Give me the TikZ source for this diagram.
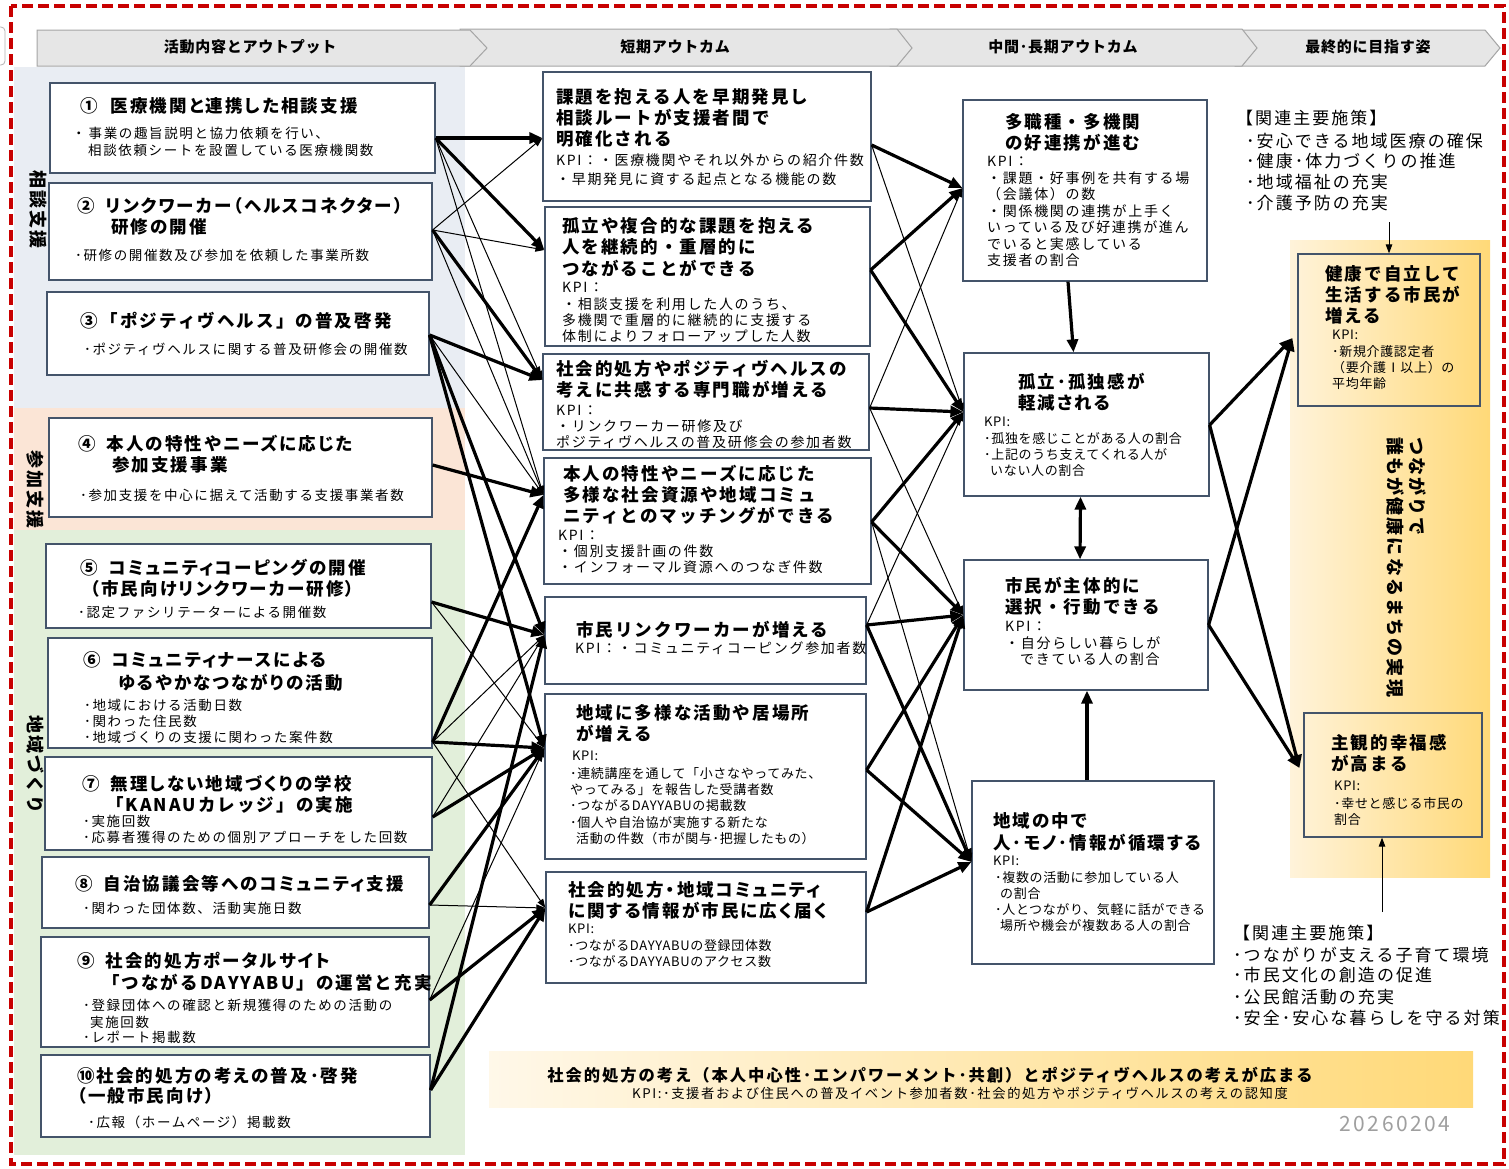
\documentclass[tikz,border=0pt]{standalone}
\usepackage{fontspec}
\setmainfont{Noto Sans CJK JP}
\newfontfamily\jsp[LetterSpace=12]{Noto Sans CJK JP}
\newfontfamily\jtp[LetterSpace=12,RawFeature=+palt]{Noto Sans CJK JP}
\newfontfamily\jsq[LetterSpace=5]{Noto Sans CJK JP}
\usetikzlibrary{fit,arrows.meta,calc}
\definecolor{redb}{RGB}{200,0,0}
\definecolor{bluebg}{RGB}{233,237,243}
\definecolor{peachbg}{RGB}{251,229,214}
\definecolor{greenbg}{RGB}{226,239,218}
\definecolor{boxb}{RGB}{68,84,106}
\definecolor{chev}{RGB}{230,230,230}
\definecolor{chevb}{RGB}{165,165,165}
\definecolor{ylight}{RGB}{255,243,218}
\definecolor{ydark}{RGB}{255,217,120}
\newcounter{tn}
\newcommand\ttline[3]{\stepcounter{tn}\node[ttl] (t\arabic{tn}) at (#1,#2) {#3};}
\newcommand\tpline[3]{\stepcounter{tn}\node[ttp] (t\arabic{tn}) at (#1,#2) {#3};}
\newcommand\bdline[3]{\stepcounter{tn}\node[bdy] (t\arabic{tn}) at (#1,#2) {#3};}
\newcommand\bmline[3]{\stepcounter{tn}\node[bdm] (t\arabic{tn}) at (#1,#2) {#3};}
\newcommand\bsline[3]{\stepcounter{tn}\node[bds] (t\arabic{tn}) at (#1,#2) {#3};}
\newcommand\poline[3]{\stepcounter{tn}\node[pol] (t\arabic{tn}) at (#1,#2) {#3};}
\newcommand\gp{\hspace{11pt}}
\begin{document}
\begin{tikzpicture}[x=1pt,y=-1pt,
  bx/.style={draw=boxb, line width=1.2pt, fill=white, inner sep=0pt},
  bxo/.style={draw=boxb, line width=1.2pt, inner sep=0pt},
  ttl/.style={font=\jsp\bfseries\fontsize{17.5}{21}\selectfont, inner sep=0pt, anchor=west},
  ttp/.style={font=\jtp\bfseries\fontsize{17.5}{21}\selectfont, inner sep=0pt, anchor=west},
  bdy/.style={font=\jsp\fontsize{13.5}{16}\selectfont, inner sep=0pt, anchor=west},
  bdm/.style={font=\jsp\fontsize{14}{16}\selectfont, inner sep=0pt, anchor=west},
  bds/.style={font=\jsq\fontsize{13}{16}\selectfont, inner sep=0pt, anchor=west},
  pol/.style={font=\jsp\fontsize{17}{20}\selectfont, inner sep=0pt, anchor=west},
  hdr/.style={font=\jsq\bfseries\fontsize{15}{15}\selectfont, inner sep=0pt},
  vlab/.style={font=\jsp\bfseries\fontsize{18}{18}\selectfont, inner sep=0pt, rotate=-90, anchor=west},
  thk/.style={line width=3.2pt, -{Triangle[length=13pt,width=11pt]}},
  thn/.style={line width=1pt, -{Triangle[length=9pt,width=6.5pt]}},
]
\useasboundingbox (0,0) rectangle (1509,1168);
\fill[white] (0,0) rectangle (1509,1168);
% left fragment
\draw[gray!60, rounded corners=4pt, line width=0.8pt] (-10,27) rectangle (5,65);
% header chevrons
\filldraw[fill=chev, draw=chevb, line width=1pt] (1235,30) -- (1485,30) -- (1500,48) -- (1485,66) -- (1235,66) -- cycle;
\filldraw[fill=chev, draw=chevb, line width=1pt] (890,29) -- (1242,29) -- (1257,48) -- (1242,66) -- (890,66) -- cycle;
\filldraw[fill=chev, draw=chevb, line width=1pt] (460,29) -- (897,29) -- (912,48) -- (897,66) -- (460,66) -- cycle;
\filldraw[fill=chev, draw=chevb, line width=1pt] (37,30) -- (470,30) -- (487,48) -- (470,66) -- (37,66) -- cycle;
\node[hdr] (h1) at (250,47) {活動内容とアウトプット};
\node[hdr] (h2) at (675,47) {短期アウトカム};
\node[hdr] (h3) at (1063,47) {中間･長期アウトカム};
\node[hdr] (h4) at (1368,47) {最終的に目指す姿};
% background bands
\fill[bluebg] (14,67) rectangle (465,408);
\fill[peachbg] (14,408) rectangle (465,530);
\fill[greenbg] (14,530) rectangle (465,1155);
\node[vlab] (s1) at (38,170) {相談支援};
\node[vlab] (s2) at (35,450) {参加支援};
\node[vlab] (s3) at (35,715) {地域づくり};
% right panel
\shade[left color=ylight, right color=ydark] (1290,240) rectangle (1490,877);
\shade[left color=ylight!60!white, right color=ydark] (489,1051) rectangle (1473,1107);
% ---------------- left boxes
\node[bx, fit={(50,83)(435,173)}] (L1) {};
\node[bx, fit={(49,183)(432,280)}] (L2) {};
\node[bx, fit={(47,292)(429,375)}] (L3) {};
\node[bx, fit={(49,418)(432,517)}] (L4) {};
\node[bx, fit={(46,544)(431,628)}] (L5) {};
\node[bx, fit={(48,638)(432,748)}] (L6) {};
\node[bx, fit={(45,757)(432,850)}] (L7) {};
\node[bx, fit={(42,857)(429,928)}] (L8) {};
\node[bx, fit={(41,937)(429,1047)}] (L9) {};
\node[bx, fit={(41,1055)(430,1137)}] (L10) {};
% middle boxes
\node[bx, fit={(543,72)(871,201)}] (SA) {};
\node[bx, fit={(545,207)(870,346)}] (SB) {};
\node[bx, fit={(543,354)(869,450)}] (SC) {};
\node[bx, fit={(544,458)(871,584)}] (SD) {};
\node[bx, fit={(545,597)(866,684)}] (SE) {};
\node[bx, fit={(545,694)(866,859)}] (SF) {};
\node[bx, fit={(546,872)(866,983)}] (SG) {};
% intermediate boxes
\node[bx, fit={(963,100)(1207,281)}] (MH) {};
\node[bx, fit={(964,353)(1209,496)}] (MI) {};
\node[bx, fit={(964,560)(1208,690)}] (MJ) {};
\node[bx, fit={(972,781)(1214,964)}] (MK) {};
% final boxes
\node[bxo, fit={(1298,254)(1480,406)}] (FL) {};
\node[bxo, fit={(1304,713)(1482,837)}] (FM) {};
% ---------------- texts left
\tpline{80}{106}{①\hspace{13pt}医療機関と連携した相談支援}
\bdline{72}{133}{・\hspace{3pt}事業の趣旨説明と協力依頼を行い、}
\bdline{88}{150}{相談依頼シートを設置している医療機関数}
\tpline{77}{206}{②\gp リンクワーカー（ヘルスコネクター）}
\tpline{111}{227}{研修の開催}
\bdline{75}{255}{･研修の開催数及び参加を依頼した事業所数}
\ttline{80}{321}{③\hspace{3pt}「ポジティヴヘルス」の普及啓発}
\bdline{84}{349}{･ポジティヴヘルスに関する普及研修会の開催数}
\tpline{78}{444}{④\gp 本人の特性やニーズに応じた}
\tpline{112}{465}{参加支援事業}
\bdline{80}{495}{･参加支援を中心に据えて活動する支援事業者数}
\tpline{80}{568}{⑤\gp コミュニティコーピングの開催}
\tpline{90}{589}{（市民向けリンクワーカー研修）}
\bdline{78}{612}{･認定ファシリテーターによる開催数}
\tpline{83}{660}{⑥\gp コミュニティナースによる}
\tpline{118}{683}{ゆるやかなつながりの活動}
\bdline{84}{705}{･地域における活動日数}
\bdline{84}{721}{･関わった住民数}
\bdline{84}{737}{･地域づくりの支援に関わった案件数}
\tpline{82}{784}{⑦\gp 無理しない地域づくりの学校}
\ttline{106}{805}{「KANAUカレッジ」の実施}
\bdline{83}{821}{･実施回数}
\bdline{83}{837}{･応募者獲得のための個別アプローチをした回数}
\tpline{75}{884}{⑧\gp 自治協議会等へのコミュニティ支援}
\bdline{83}{908}{･関わった団体数、活動実施日数}
\tpline{77}{961}{⑨\gp 社会的処方ポータルサイト}
\ttline{102}{983}{「つながるDAYYABU」の運営と充実}
\bdline{83}{1005}{･登録団体への確認と新規獲得のための活動の}
\bdline{90}{1022}{実施回数}
\bdline{83}{1037}{･レポート掲載数}
\tpline{77}{1076}{⑩社会的処方の考えの普及･啓発}
\tpline{77}{1096}{（一般市民向け）}
\bdline{88}{1122}{･広報（ホームページ）掲載数}
% ---------------- texts middle
\ttline{556}{97}{課題を抱える人を早期発見し}
\ttline{556}{118}{相談ルートが支援者間で}
\ttline{556}{139}{明確化される}
\bmline{556}{160}{KPI：・医療機関やそれ以外からの紹介件数}
\bmline{556}{179}{・早期発見に資する起点となる機能の数}
\ttline{562}{226}{孤立や複合的な課題を抱える}
\ttline{562}{247}{人を継続的・重層的に}
\ttline{562}{268}{つながることができる}
\bmline{562}{287}{KPI：}
\bmline{562}{304}{・相談支援を利用した人のうち、}
\bmline{562}{320}{多機関で重層的に継続的に支援する}
\bmline{562}{336}{体制によりフォローアップした人数}
\ttline{556}{369}{社会的処方やポジティヴヘルスの}
\ttline{556}{390}{考えに共感する専門職が増える}
\bmline{556}{410}{KPI：}
\bmline{556}{426}{・リンクワーカー研修及び}
\bmline{556}{442}{ポジティヴヘルスの普及研修会の参加者数}
\ttline{563}{474}{本人の特性やニーズに応じた}
\ttline{563}{495}{多様な社会資源や地域コミュ}
\ttline{563}{516}{ニティとのマッチングができる}
\bmline{558}{535}{KPI：}
\bmline{558}{551}{・個別支援計画の件数}
\bmline{558}{567}{・インフォーマル資源へのつなぎ件数}
\ttline{576}{630}{市民リンクワーカーが増える}
\bmline{575}{648}{KPI：・コミュニティコーピング参加者数}
\ttline{576}{713}{地域に多様な活動や居場所}
\ttline{576}{734}{が増える}
\bsline{572}{756}{KPI:}
\bsline{570}{774}{･連続講座を通して「小さなやってみた、}
\bsline{570}{790}{やってみる」を報告した受講者数}
\bsline{570}{806}{･つながるDAYYABUの掲載数}
\bsline{570}{823}{･個人や自治協が実施する新たな}
\bsline{576}{839}{活動の件数（市が関与･把握したもの）}
\tpline{568}{890}{社会的処方・地域コミュニティ}
\tpline{568}{911}{に関する情報が市民に広く届く}
\bsline{568}{929}{KPI:}
\bsline{568}{946}{･つながるDAYYABUの登録団体数}
\bsline{568}{962}{･つながるDAYYABUのアクセス数}
% ---------------- texts intermediate
\ttline{1005}{122}{多職種・多機関}
\ttline{1005}{143}{の好連携が進む}
\bmline{987}{161}{KPI：}
\bmline{987}{178}{・課題・好事例を共有する場}
\bmline{987}{194}{（会議体）の数}
\bmline{987}{211}{・関係機関の連携が上手く}
\bmline{987}{227}{いっている及び好連携が進ん}
\bmline{987}{244}{でいると実感している}
\bmline{987}{260}{支援者の割合}
\tpline{1018}{382}{孤立･孤独感が}
\tpline{1018}{403}{軽減される}
\bsline{984}{422}{KPI:}
\bsline{984}{439}{･孤独を感じことがある人の割合}
\bsline{984}{455}{･上記のうち支えてくれる人が}
\bsline{990}{471}{いない人の割合}
\ttline{1005}{586}{市民が主体的に}
\ttline{1005}{607}{選択・行動できる}
\bmline{1005}{626}{KPI：}
\bmline{1005}{643}{・自分らしい暮らしが}
\bmline{1020}{659}{できている人の割合}
\tpline{993}{821}{地域の中で}
\tpline{993}{843}{人･モノ･情報が循環する}
\bsline{993}{861}{KPI:}
\bsline{995}{878}{･複数の活動に参加している人}
\bsline{1000}{894}{の割合}
\bsline{995}{910}{･人とつながり、気軽に話ができる}
\bsline{1000}{926}{場所や機会が複数ある人の割合}
% ---------------- final
\ttline{1325}{274}{健康で自立して}
\ttline{1325}{295}{生活する市民が}
\ttline{1325}{316}{増える}
\bsline{1332}{335}{KPI:}
\bsline{1332}{352}{･新規介護認定者}
\bsline{1332}{368}{（要介護Ⅰ以上）の}
\bsline{1332}{384}{平均年齢}
\ttline{1331}{743}{主観的幸福感}
\ttline{1331}{764}{が高まる}
\bsline{1334}{786}{KPI:}
\bsline{1334}{804}{･幸せと感じる市民の}
\bsline{1334}{820}{割合}
\node[vlab] (v1) at (1418,437) {つながりで};
\node[vlab] (v2) at (1395,437) {誰もが健康になるまちの実現};
% policies
\poline{1236}{118}{【関連主要施策】}
\poline{1246}{141}{･安心できる地域医療の確保}
\poline{1246}{161}{･健康･体力づくりの推進}
\poline{1246}{182}{･地域福祉の充実}
\poline{1246}{203}{･介護予防の充実}
\poline{1233}{933}{【関連主要施策】}
\poline{1233}{955}{･つながりが支える子育て環境}
\poline{1233}{975}{･市民文化の創造の促進}
\poline{1233}{997}{･公民館活動の充実}
\poline{1233}{1018}{･安全･安心な暮らしを守る対策}
\coordinate (p1) at (1389,222);
\coordinate (p2) at (1382,912);
\draw[thn] (p1) -- (FL.north -| p1);
\draw[thn] (p2) -- (FM.south -| p2);
% banner
\node[font=\jsp\bfseries\fontsize{16.3}{16.3}\selectfont, inner sep=0pt] (bn1) at (930,1075) {社会的処方の考え（本人中心性･エンパワーメント･共創）とポジティヴヘルスの考えが広まる};
\node[font=\jsp\fontsize{13.3}{13.3}\selectfont, inner sep=0pt] (bn2) at (960,1093) {KPI:･支援者および住民への普及イベント参加者数･社会的処方やポジティヴヘルスの考えの認知度};
\node[font=\jsp\fontsize{21}{21}\selectfont, text=gray!75, inner sep=0pt] (dt) at (1395,1124) {20260204};
% ---------------- ports
\coordinate (o1) at ([yshift=-10pt]L1.east);
\coordinate (o2) at ([yshift=1.5pt]L2.east);
\coordinate (o3) at ([yshift=-1.5pt]L3.east);
\coordinate (o4) at ([yshift=2.5pt]L4.east);
\coordinate (o5) at ([yshift=-16pt]L5.east);
\coordinate (o6) at ([yshift=-49pt]L6.east);
\coordinate (o7) at ([yshift=-13.5pt]L7.east);
\coordinate (o8) at ([yshift=-12.5pt]L8.east);
\coordinate (o9) at ([yshift=-8pt]L9.east);
\coordinate (o10) at ([yshift=6pt]L10.east);
\coordinate (ai) at ([yshift=-1.5pt]SA.west);
\coordinate (bi) at ([yshift=26.5pt]SB.west);
\coordinate (ci) at ([yshift=22pt]SC.west);
\coordinate (di) at ([yshift=26pt]SD.west);
\coordinate (ei) at ([yshift=5.5pt]SE.west);
\coordinate (fi) at ([yshift=28.5pt]SF.west);
\coordinate (gi) at ([yshift=19.5pt]SG.west);
\coordinate (ao) at ([yshift=-8.5pt]SA.east);
\coordinate (bo) at ([yshift=6.5pt]SB.east);
\coordinate (co) at ([yshift=-6pt]SC.east);
\coordinate (do) at ([yshift=-1pt]SD.east);
\coordinate (eo) at ([yshift=15.5pt]SE.east);
\coordinate (fo) at ([yshift=6.5pt]SF.east);
\coordinate (go) at ([yshift=15.5pt]SG.east);
\coordinate (hi) at ([yshift=2.5pt]MH.west);
\coordinate (ii) at ([yshift=12.5pt]MI.west);
\coordinate (ji) at ([yshift=10pt]MJ.west);
\coordinate (ki) at ([yshift=10.5pt]MK.west);
\coordinate (io) at ([yshift=-0.5pt]MI.east);
\coordinate (jo) at (MJ.east);
\coordinate (li) at ([xshift=-5pt,yshift=-8pt]FL.west);
\coordinate (mi) at ([xshift=-4pt,yshift=7pt]FM.west);
% ---------------- left -> short
\draw[thk] (o1) -- (ai);
\draw[thk] (o1) -- (bi);
\draw[thn] (o1) -- (ci);
\draw[thn] (o1) -- (di);
\draw[thn] (o2) -- (ai);
\draw[thn] (o2) -- (bi);
\draw[thk] (o2) -- (ci);
\draw[thn] (o2) -- (di);
\draw[thk] (o3) -- (ci);
\draw[thn] (o3) -- (di);
\draw[thk] (o3) -- (ei);
\draw[thk] (o3) -- (fi);
\draw[thk] (o4) -- (di);
\draw[thk] (o5) -- (ei);
\draw[thn] (o5) -- (fi);
\draw[thk] (o6) -- (fi);
\draw[thk] (o6) -- (di);
\draw[thn] (o6) -- (ei);
\draw[thn] (o6) -- (gi);
\draw[thk] (o7) -- (fi);
\draw[thn] (o7) -- (ei);
\draw[thk] (o8) -- (fi);
\draw[thn] (o8) -- (gi);
\draw[thk] (o9) -- (gi);
\draw[thn] (o9) -- (fi);
\draw[thk] (o10) -- (gi);
\draw[thk] (o10) -- (ei);
% ---------------- short -> intermediate
\draw[thk] (ao) -- (hi);
\draw[thn] (ao) -- (ii);
\draw[thk] (bo) -- (hi);
\draw[thk] (bo) -- (ii);
\draw[thn] (co) -- (hi);
\draw[thk] (co) -- (ii);
\draw[thn] (co) -- (ji);
\draw[thk] (do) -- (ii);
\draw[thk] (do) -- (ji);
\draw[thn] (do) -- (ki);
\draw[thn] (eo) -- (ii);
\draw[thk] (eo) -- (ji);
\draw[thk] (eo) -- (ki);
\draw[thk] (fo) -- (ji);
\draw[thk] (fo) -- (ki);
\draw[thk] (go) -- (ji);
\draw[thk] (go) -- (ki);
% ---------------- intermediate
\draw[thk] ([xshift=-17pt]MH.south) -- ([xshift=-13pt]MI.north);
\draw[line width=3.2pt, {Triangle[length=13pt,width=11pt]}-{Triangle[length=13pt,width=11pt]}] ([xshift=-6pt]MI.south) -- ([xshift=-6pt]MJ.north);
\draw[thk] ([xshift=-6pt]MK.north) -- ([xshift=1pt]MJ.south);
% ---------------- final
\draw[thk] (io) -- (li);
\draw[thk] (io) -- (mi);
\draw[thk] (jo) -- (li);
\draw[thk] (jo) -- (mi);
% red border
\draw[redb, line width=3.5pt, dash pattern=on 11pt off 5pt] (11,6) rectangle (1504,1164);
\end{tikzpicture}
\end{document}
